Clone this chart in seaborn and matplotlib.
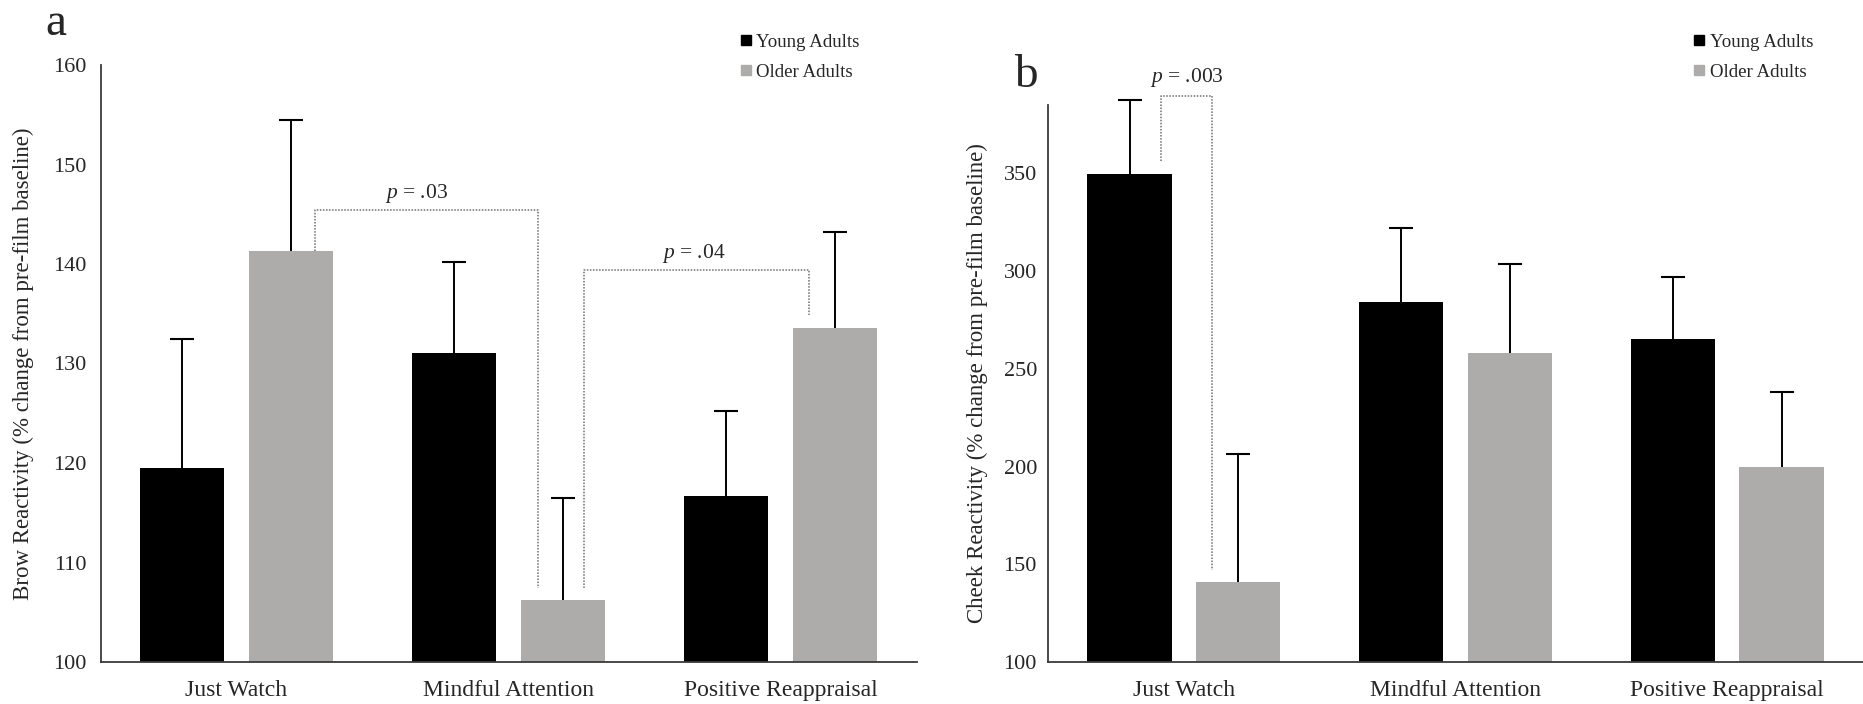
import matplotlib
matplotlib.use("Agg")
import matplotlib.pyplot as plt
from matplotlib.lines import Line2D
import seaborn as sns
import pandas as pd
import numpy as np

# ---- data ----
conditions = ["Just Watch", "Mindful Attention", "Positive Reappraisal"]
groups = ["Young Adults", "Older Adults"]

brow_young = [119.5, 131.1, 116.7]
brow_older = [141.35, 106.2, 133.6]
brow_young_err_top = [132.5, 140.2, 125.2]
brow_older_err_top = [154.5, 116.5, 143.2]

cheek_young = [349.5, 284.3, 265.3]
cheek_older = [140.7, 258.1, 199.8]
cheek_young_err_top = [387.7, 322.2, 296.8]
cheek_older_err_top = [206.5, 303.5, 238.4]

brow_yticks = [100, 110, 120, 130, 140, 150, 160]
cheek_yticks = [100, 150, 200, 250, 300, 350]

colors = {"Young Adults": "#000000", "Older Adults": "#AEABAB"}

sns.set_theme(style="white")
plt.rcParams["font.family"] = ["Liberation Serif", "DejaVu Serif"]
plt.rcParams["mathtext.fontset"] = "custom"
plt.rcParams["mathtext.rm"] = "Liberation Serif"
plt.rcParams["mathtext.it"] = "Liberation Serif:italic"

fig = plt.figure(figsize=(18.63, 7.04), dpi=100)
axL = fig.add_axes([100.5 / 1863, 42 / 704, 816 / 1863, 597 / 704])
axR = fig.add_axes([1048 / 1863, 42 / 704, 815 / 1863, 557 / 704])


def make_df(young, older):
    return pd.DataFrame({
        "condition": conditions * 2,
        "group": [groups[0]] * 3 + [groups[1]] * 3,
        "value": list(young) + list(older),
    })


def draw(ax, young, older, yerr_y, yerr_o, ylim, yticks, ylabel):
    df = make_df(young, older)
    sns.barplot(data=df, x="condition", y="value", hue="group",
                hue_order=groups, order=conditions, palette=colors,
                width=0.8, gap=0.225, errorbar=None, ax=ax,
                linewidth=0, legend=False)
    ax.set_ylim(*ylim)
    ax.set_xlim(-0.5, 2.5)
    patches = [p for p in ax.patches if p.get_height() > 0]
    patches = sorted(patches, key=lambda p: p.get_x())
    bar_vals = [young[0], older[0], young[1], older[1], young[2], older[2]]
    bar_errs = [yerr_y[0], yerr_o[0], yerr_y[1], yerr_o[1], yerr_y[2], yerr_o[2]]
    xs = [p.get_x() + p.get_width() / 2 for p in patches]
    for x, v, e in zip(xs, bar_vals, bar_errs):
        ax.plot([x, x], [v, e], color="black", lw=1.4, clip_on=False,
                zorder=3, solid_capstyle="butt")
        ax.plot([x], [e], marker="_", markersize=17, markeredgewidth=1.5,
                color="black", clip_on=False, zorder=3)
    ax.set_yticks(yticks)
    ax.set_yticklabels([str(t) for t in yticks])
    ax.set_xlabel("")
    ax.set_ylabel(ylabel, fontsize=16.5)
    ax.tick_params(axis="y", length=0, pad=10, labelsize=16)
    ax.tick_params(axis="x", length=0, pad=13, labelsize=17)
    for s in ["top", "right"]:
        ax.spines[s].set_visible(False)
    for s in ["left", "bottom"]:
        ax.spines[s].set_color("#3a3a3a")
        ax.spines[s].set_linewidth(1.3)
    ax.set_facecolor("white")
    return xs


def bracket(ax, x1, x2, y, y1b, y2b, label, lx, ly):
    ax.plot([x1, x1, x2, x2], [y1b, y, y, y2b], color="#6e6e6e",
            lw=1.1, linestyle=(0, (1, 1)), clip_on=False, zorder=4)
    ax.text(lx, ly, label, ha="center", va="bottom", fontsize=15.5)


draw(axL, brow_young, brow_older, brow_young_err_top, brow_older_err_top,
     (100, 160), brow_yticks,
     "Brow Reactivity (% change from pre-film baseline)")
draw(axR, cheek_young, cheek_older, cheek_young_err_top, cheek_older_err_top,
     (100, 385), cheek_yticks,
     "Cheek Reactivity (% change from pre-film baseline)")
axL.yaxis.labelpad = 14
axR.yaxis.labelpad = 11
axR.tick_params(axis="y", pad=8)

# significance brackets
bracket(axL, 0.29, 1.11, 145.4, 141.35, 107.4, r"$p$ = .03", 0.66, 145.9)
bracket(axL, 1.279, 2.104, 139.4, 107.4, 134.9, r"$p$ = .04", 1.68, 139.9)
bracket(axR, -0.085, 0.104, 389.4, 356.5, 147.0, r"$p$ = .003", 0.01, 393.0)

# legends
handles = [Line2D([0], [0], marker="s", linestyle="none", markersize=7.5,
                  markerfacecolor=colors[g], markeredgecolor=colors[g])
           for g in groups]
for ax, xa in [(axL, 731 / 1863), (axR, 1684 / 1863)]:
    ax.legend(handles, groups, loc="upper left",
              bbox_to_anchor=(xa, 1 - 24 / 704),
              bbox_transform=fig.transFigure, frameon=False,
              fontsize=13.6, handlelength=0.55, handletextpad=0.3,
              labelspacing=0.7, borderpad=0)

# panel letters
fig.text(56 / 1863, 1 - 24 / 704, "a", fontsize=34, ha="center", va="center")
fig.text(1026 / 1863, 1 - 76 / 704, "b", fontsize=34, ha="center", va="center")

fig.savefig("out.png", dpi=100, facecolor="white")
